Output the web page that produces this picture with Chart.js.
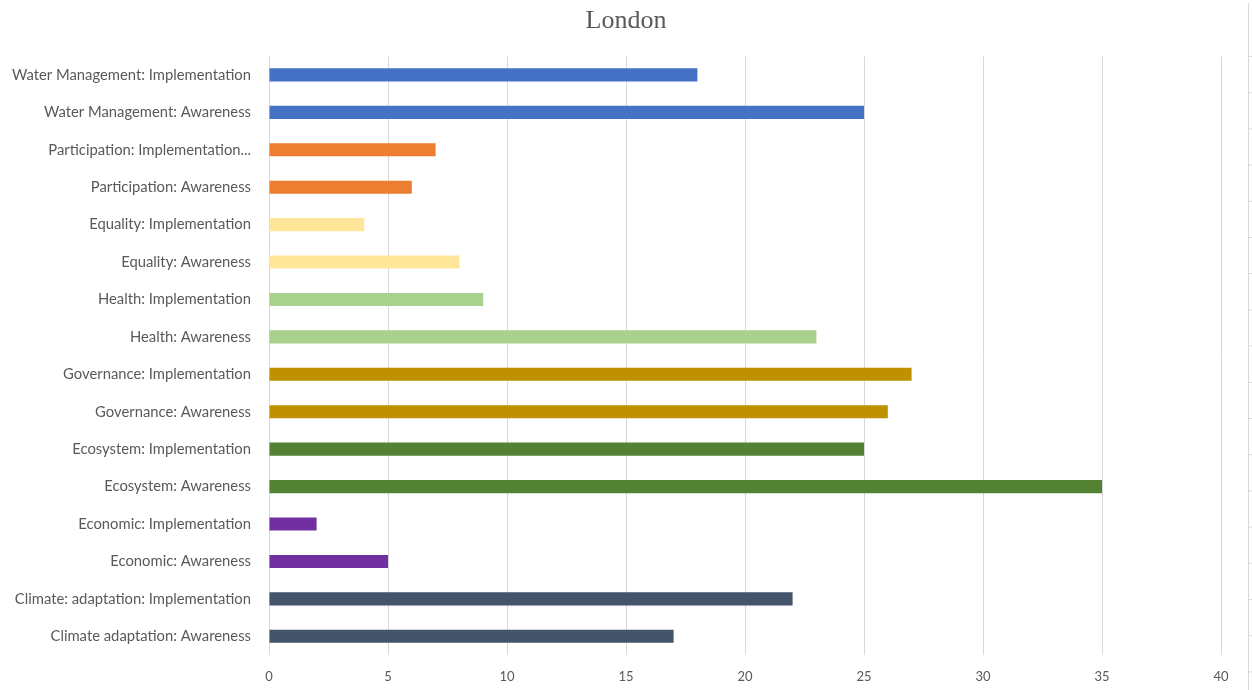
<!DOCTYPE html>
<html>
<head>
<meta charset="utf-8">
<script src="https://cdn.jsdelivr.net/npm/chart.js@4"></script>
<style>
  html, body { margin: 0; padding: 0; background: #fff; }
  #wrap { width: 1252px; height: 690px; }
</style>
</head>
<body>
<div id="wrap"><canvas id="chart"></canvas></div>
<script>
// categories, top row first
const categories = [
  'Water Management: Implementation',
  'Water Management: Awareness',
  'Participation: Implementation...',
  'Participation: Awareness',
  'Equality: Implementation',
  'Equality: Awareness',
  'Health: Implementation',
  'Health: Awareness',
  'Governance: Implementation',
  'Governance: Awareness',
  'Ecosystem: Implementation',
  'Ecosystem: Awareness',
  'Economic: Implementation',
  'Economic: Awareness',
  'Climate: adaptation: Implementation',
  'Climate adaptation: Awareness'
];
const counts = [18, 25, 7, 6, 4, 8, 9, 23, 27, 26, 25, 35, 2, 5, 22, 17];
const barColors = [
  '#4472C4', '#4472C4',
  '#ED7D31', '#ED7D31',
  '#FFE699', '#FFE699',
  '#A9D18E', '#A9D18E',
  '#BF9000', '#BF9000',
  '#548235', '#548235',
  '#7030A0', '#7030A0',
  '#44546A', '#44546A'
];
const xTicks = [0, 5, 10, 15, 20, 25, 30, 35, 40];

const textGray = '#595959';
const gridGray = '#D9D9D9';

// faint edge of the neighbouring panel on the right
const edgePanel = {
  id: 'edgePanel',
  afterDraw(chart) {
    const ctx = chart.ctx;
    const x = chart.width - 3.5;
    ctx.save();
    ctx.strokeStyle = '#D9D9D9';
    ctx.lineWidth = 1;
    ctx.beginPath();
    ctx.moveTo(x, 3);
    ctx.lineTo(x, chart.height);
    for (let y = 56.5; y < chart.height; y += 36.2) {
      ctx.moveTo(x, y);
      ctx.lineTo(chart.width, y);
    }
    ctx.stroke();
    ctx.restore();
  }
};

new Chart(document.getElementById('chart'), {
  type: 'bar',
  data: {
    labels: categories,
    datasets: [{
      label: 'London',
      data: counts,
      backgroundColor: barColors,
      borderWidth: 0,
      categoryPercentage: 1,
      barPercentage: 0.35
    }]
  },
  options: {
    indexAxis: 'y',
    responsive: true,
    maintainAspectRatio: false,
    animation: false,
    layout: { padding: 0 },
    plugins: {
      legend: { display: false },
      tooltip: { enabled: false },
      title: {
        display: true,
        text: 'London',
        color: textGray,
        font: { family: 'Liberation Serif', size: 26, weight: 'normal' },
        padding: { top: 6, bottom: 19 }
      }
    },
    scales: {
      x: {
        min: 0,
        max: 40,
        afterBuildTicks: (scale) => { scale.ticks = xTicks.map(v => ({ value: v })); },
        afterFit: (scale) => { scale.height = 35; },
        grid: { color: gridGray, lineWidth: 1, drawTicks: false },
        border: { display: false },
        ticks: {
          color: textGray,
          font: { family: 'Lato', size: 13 },
          padding: 14
        }
      },
      y: {
        afterFit: (scale) => { scale.width = 269; },
        grid: { display: false, drawTicks: false },
        border: { display: false },
        ticks: {
          color: textGray,
          font: { family: 'Lato', size: 14.8 },
          padding: 18,
          autoSkip: false
        }
      },
      // empty margin on the right so the title stays centred on the page
      yRight: {
        position: 'right',
        afterFit: (scale) => { scale.width = 31; },
        grid: { display: false, drawTicks: false },
        border: { display: false },
        ticks: { display: false }
      }
    }
  },
  plugins: [edgePanel]
});
</script>
</body>
</html>
